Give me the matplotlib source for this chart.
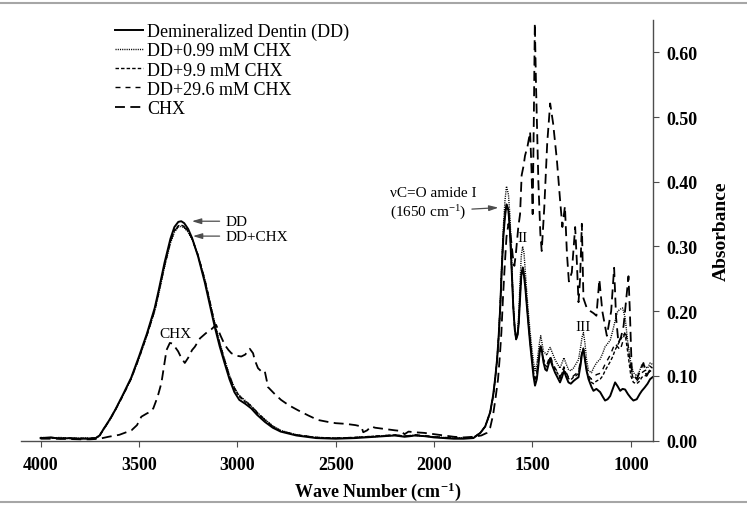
import matplotlib
matplotlib.use("Agg")
import matplotlib.pyplot as plt
from matplotlib.lines import Line2D

plt.rcParams['font.family'] = ['Liberation Serif', 'DejaVu Serif']
plt.rcParams['mathtext.fontset'] = 'custom'
plt.rcParams['mathtext.rm'] = 'Liberation Serif'
plt.rcParams['mathtext.it'] = 'Liberation Serif:italic'
plt.rcParams['mathtext.bf'] = 'Liberation Serif:bold'

# shared wave-number grid for the dentin spectra (cm-1)
wn = [4000, 3950, 3900, 3850, 3800, 3750, 3720, 3700, 3680, 3650,
      3620, 3580, 3540, 3500, 3460, 3420, 3400, 3370, 3340, 3320,
      3300, 3285, 3270, 3250, 3230, 3200, 3165, 3140, 3115, 3090,
      3065, 3040, 3015, 2990, 2960, 2930, 2900, 2860, 2820, 2780,
      2700, 2600, 2500, 2400, 2350, 2300, 2250, 2200, 2150, 2120,
      2100, 2050, 2000, 1950, 1900, 1850, 1800, 1765, 1740, 1715,
      1700, 1690, 1680, 1672, 1664, 1656, 1648, 1640, 1632, 1622,
      1614, 1605, 1597, 1590, 1583, 1576, 1570, 1564, 1557, 1550,
      1543, 1536, 1528, 1520, 1512, 1504, 1495, 1487, 1478, 1470,
      1464, 1458, 1451, 1444, 1435, 1427, 1418, 1410, 1398, 1385,
      1372, 1360, 1350, 1340, 1328, 1317, 1305, 1292, 1280, 1266,
      1255, 1248, 1241, 1233, 1225, 1215, 1200, 1190, 1175, 1156,
      1143, 1131, 1118, 1105, 1092, 1080, 1067, 1054, 1042, 1029,
      1015, 1000, 987, 970, 955, 944, 930, 915, 902, 890]

dd = [0.004, 0.005, 0.003, 0.004, 0.003, 0.003, 0.004, 0.008, 0.018, 0.032,
      0.048, 0.072, 0.097, 0.130, 0.165, 0.205, 0.232, 0.275, 0.312, 0.330,
      0.338, 0.339, 0.336, 0.327, 0.313, 0.285, 0.244, 0.210, 0.176, 0.146,
      0.120, 0.095, 0.075, 0.063, 0.057, 0.050, 0.040, 0.029, 0.020, 0.014,
      0.008, 0.004, 0.003, 0.004, 0.005, 0.006, 0.007, 0.008, 0.006, 0.007,
      0.008, 0.007, 0.005, 0.004, 0.003, 0.003, 0.004, 0.012, 0.022, 0.044,
      0.070, 0.095, 0.125, 0.160, 0.205, 0.265, 0.315, 0.345, 0.365, 0.355,
      0.321, 0.260, 0.203, 0.172, 0.157, 0.163, 0.180, 0.215, 0.254, 0.266,
      0.255, 0.235, 0.205, 0.177, 0.150, 0.126, 0.100, 0.085, 0.095, 0.116,
      0.135, 0.146, 0.136, 0.121, 0.110, 0.108, 0.118, 0.126, 0.115, 0.105,
      0.097, 0.090, 0.098, 0.108, 0.098, 0.090, 0.088, 0.092, 0.095, 0.098,
      0.118, 0.135, 0.141, 0.125, 0.108, 0.095, 0.083, 0.077, 0.080, 0.075,
      0.068, 0.062, 0.064, 0.069, 0.080, 0.090, 0.084, 0.077, 0.080, 0.079,
      0.072, 0.066, 0.062, 0.064, 0.072, 0.077, 0.082, 0.088, 0.095, 0.098]

dd_099 = [0.005, 0.004, 0.005, 0.003, 0.004, 0.004, 0.004, 0.007, 0.017, 0.031,
          0.047, 0.071, 0.095, 0.127, 0.162, 0.200, 0.226, 0.268, 0.305, 0.322,
          0.330, 0.331, 0.329, 0.322, 0.311, 0.287, 0.249, 0.216, 0.182, 0.152,
          0.126, 0.101, 0.082, 0.070, 0.062, 0.054, 0.044, 0.033, 0.023, 0.016,
          0.009, 0.005, 0.004, 0.005, 0.006, 0.006, 0.008, 0.008, 0.007, 0.008,
          0.008, 0.007, 0.006, 0.005, 0.004, 0.004, 0.005, 0.012, 0.022, 0.043,
          0.068, 0.094, 0.125, 0.162, 0.210, 0.275, 0.330, 0.370, 0.393, 0.380,
          0.345, 0.275, 0.210, 0.175, 0.158, 0.168, 0.195, 0.240, 0.285, 0.300,
          0.290, 0.260, 0.225, 0.195, 0.168, 0.145, 0.122, 0.108, 0.118, 0.138,
          0.152, 0.162, 0.150, 0.138, 0.135, 0.132, 0.140, 0.144, 0.135, 0.125,
          0.118, 0.112, 0.120, 0.128, 0.118, 0.110, 0.108, 0.112, 0.118, 0.125,
          0.145, 0.160, 0.167, 0.150, 0.125, 0.108, 0.105, 0.112, 0.120, 0.126,
          0.135, 0.145, 0.150, 0.155, 0.170, 0.185, 0.200, 0.203, 0.205, 0.190,
          0.150, 0.120, 0.105, 0.100, 0.108, 0.118, 0.115, 0.112, 0.120, 0.118]

dd_99 = [0.004, 0.004, 0.004, 0.004, 0.003, 0.004, 0.004, 0.008, 0.018, 0.032,
         0.048, 0.071, 0.096, 0.128, 0.163, 0.202, 0.229, 0.271, 0.308, 0.325,
         0.332, 0.333, 0.331, 0.324, 0.312, 0.286, 0.247, 0.214, 0.180, 0.150,
         0.124, 0.099, 0.080, 0.068, 0.060, 0.053, 0.043, 0.032, 0.022, 0.015,
         0.009, 0.005, 0.004, 0.005, 0.006, 0.007, 0.007, 0.009, 0.007, 0.007,
         0.009, 0.007, 0.006, 0.004, 0.004, 0.004, 0.004, 0.012, 0.022, 0.044,
         0.069, 0.094, 0.124, 0.160, 0.206, 0.266, 0.318, 0.350, 0.364, 0.355,
         0.322, 0.262, 0.205, 0.172, 0.156, 0.163, 0.182, 0.218, 0.256, 0.268,
         0.258, 0.238, 0.208, 0.180, 0.153, 0.130, 0.106, 0.093, 0.103, 0.122,
         0.136, 0.144, 0.135, 0.124, 0.117, 0.114, 0.122, 0.128, 0.118, 0.110,
         0.104, 0.096, 0.104, 0.112, 0.103, 0.096, 0.094, 0.098, 0.100, 0.104,
         0.122, 0.136, 0.140, 0.126, 0.110, 0.097, 0.090, 0.088, 0.092, 0.095,
         0.100, 0.108, 0.115, 0.122, 0.130, 0.140, 0.148, 0.155, 0.162, 0.165,
         0.135, 0.100, 0.090, 0.088, 0.092, 0.098, 0.100, 0.102, 0.108, 0.105]

dd_296 = [0.004, 0.005, 0.004, 0.003, 0.004, 0.003, 0.004, 0.008, 0.017, 0.031,
          0.047, 0.070, 0.095, 0.127, 0.162, 0.201, 0.228, 0.270, 0.307, 0.324,
          0.331, 0.332, 0.330, 0.323, 0.312, 0.287, 0.249, 0.216, 0.181, 0.151,
          0.125, 0.100, 0.081, 0.069, 0.061, 0.054, 0.044, 0.032, 0.022, 0.015,
          0.009, 0.005, 0.004, 0.005, 0.006, 0.007, 0.008, 0.009, 0.007, 0.008,
          0.009, 0.008, 0.006, 0.005, 0.004, 0.004, 0.005, 0.012, 0.022, 0.043,
          0.068, 0.093, 0.123, 0.160, 0.207, 0.268, 0.320, 0.352, 0.366, 0.357,
          0.324, 0.263, 0.206, 0.173, 0.157, 0.164, 0.183, 0.220, 0.258, 0.270,
          0.260, 0.240, 0.210, 0.182, 0.155, 0.132, 0.108, 0.095, 0.106, 0.125,
          0.140, 0.148, 0.138, 0.126, 0.120, 0.117, 0.125, 0.131, 0.121, 0.112,
          0.106, 0.098, 0.106, 0.114, 0.105, 0.098, 0.096, 0.100, 0.103, 0.107,
          0.125, 0.138, 0.143, 0.128, 0.112, 0.100, 0.095, 0.098, 0.102, 0.104,
          0.110, 0.118, 0.125, 0.132, 0.142, 0.150, 0.145, 0.140, 0.152, 0.170,
          0.150, 0.110, 0.095, 0.092, 0.098, 0.105, 0.108, 0.110, 0.115, 0.112]

# pure chlorhexidine spectrum
wn_chx = [4000, 3900, 3800, 3750, 3700, 3655, 3600, 3538, 3510, 3488,
          3460, 3440, 3427, 3405, 3386, 3370, 3360, 3343, 3330, 3315,
          3301, 3285, 3267, 3250, 3230, 3216, 3190, 3160, 3132, 3108,
          3085, 3064, 3045, 3030, 3000, 2980, 2960, 2937, 2920, 2912,
          2895, 2878, 2861, 2850, 2845, 2810, 2778, 2740, 2692, 2640,
          2591, 2540, 2500, 2450, 2400, 2370, 2360, 2340, 2320, 2300,
          2250, 2200, 2170, 2150, 2130, 2100, 2050, 2000, 1950, 1900,
          1850, 1800, 1760, 1732, 1715, 1700, 1688, 1675, 1666, 1658,
          1650, 1641, 1632, 1622, 1612, 1600, 1592, 1584, 1572, 1563,
          1555, 1545, 1538, 1525, 1512, 1505, 1499, 1493, 1488, 1482,
          1470, 1460, 1453, 1440, 1425, 1410, 1395, 1376, 1360, 1348,
          1335, 1325, 1315, 1300, 1283, 1275, 1266, 1258, 1249, 1241,
          1224, 1205, 1190, 1175, 1160, 1145, 1122, 1100, 1085, 1075,
          1063, 1050, 1037, 1012, 1005, 995, 970, 950, 936, 920,
          902, 890]
chx = [0.003, 0.003, 0.002, 0.002, 0.003, 0.006, 0.009, 0.016, 0.024, 0.037,
       0.042, 0.045, 0.050, 0.068, 0.089, 0.120, 0.140, 0.151, 0.150, 0.144,
       0.138, 0.128, 0.120, 0.128, 0.140, 0.145, 0.158, 0.166, 0.172, 0.179,
       0.162, 0.148, 0.140, 0.135, 0.131, 0.130, 0.133, 0.142, 0.135, 0.125,
       0.112, 0.107, 0.108, 0.092, 0.083, 0.072, 0.063, 0.055, 0.047, 0.039,
       0.032, 0.029, 0.027, 0.026, 0.024, 0.022, 0.013, 0.016, 0.022, 0.020,
       0.018, 0.016, 0.015, 0.010, 0.014, 0.013, 0.012, 0.010, 0.008, 0.006,
       0.005, 0.006, 0.008, 0.012, 0.020, 0.040, 0.065, 0.095, 0.130, 0.167,
       0.220, 0.270, 0.315, 0.335, 0.320, 0.285, 0.270, 0.290, 0.330, 0.350,
       0.410, 0.425, 0.440, 0.455, 0.477, 0.420, 0.350, 0.500, 0.645, 0.550,
       0.400, 0.320, 0.293, 0.360, 0.460, 0.521, 0.490, 0.434, 0.373, 0.330,
       0.362, 0.290, 0.246, 0.260, 0.330, 0.280, 0.214, 0.250, 0.335, 0.220,
       0.205, 0.200, 0.197, 0.193, 0.249, 0.200, 0.162, 0.200, 0.267, 0.190,
       0.151, 0.160, 0.177, 0.254, 0.200, 0.105, 0.095, 0.110, 0.120, 0.100,
       0.110, 0.105]

labels = ['Demineralized Dentin (DD)', 'DD+0.99 mM CHX', 'DD+9.9 mM CHX',
          'DD+29.6 mM CHX', 'CHX']
x_ticks = [4000, 3500, 3000, 2500, 2000, 1500, 1000]
y_ticks = [0.0, 0.1, 0.2, 0.3, 0.4, 0.5, 0.6]

fig = plt.figure(figsize=(7.47, 5.10), dpi=100)
ax = fig.add_axes([0.028, 0.134, 0.846, 0.825])

ax.plot(wn, dd, color='black', lw=1.4, label=labels[0])
ax.plot(wn, dd_099, color='black', lw=1.0, ls=(0, (0.8, 0.8)), label=labels[1])
ax.plot(wn, dd_99, color='black', lw=1.0, ls=(0, (2.5, 1.5)), label=labels[2])
ax.plot(wn, dd_296, color='black', lw=1.0, ls=(0, (3.6, 3.6)), label=labels[3])
ax.plot(wn_chx, chx, color='black', lw=1.3, ls=(0, (5.5, 3)), label=labels[4])

ax.set_xlim(4100, 888)
ax.set_ylim(0, 0.65)

for s in ['left', 'top']:
    ax.spines[s].set_visible(False)
for s in ['bottom', 'right']:
    ax.spines[s].set_color('0.3')
    ax.spines[s].set_linewidth(1.0)

ax.yaxis.tick_right()
ax.set_xticks(x_ticks, labels=[str(t) for t in x_ticks], fontweight='bold', fontsize=13)
ax.set_yticks(y_ticks, labels=['%.2f' % t for t in y_ticks], fontweight='bold', fontsize=13)
ax.tick_params(axis='x', direction='out', length=4, width=0.8, color='0.3', pad=7)
ax.tick_params(axis='y', direction='out', length=4, width=0.8, color='0.3', pad=6)

ax.set_xlabel(r'Wave Number (cm$^{\mathbf{-1}}$)', fontweight='bold', fontsize=13)
ax.xaxis.set_label_coords(0.565, -0.093)
ax.yaxis.set_label_position('right')
ax.set_ylabel('Absorbance', fontweight='bold', fontsize=14)
ax.yaxis.set_label_coords(1.095, 0.5)

leg = ax.legend(loc='upper left', bbox_to_anchor=(115 / 747, 0.953),
                bbox_transform=fig.transFigure, frameon=False, fontsize=13,
                handlelength=1.55, handletextpad=0.22, labelspacing=0.12,
                borderpad=0, borderaxespad=0)

arrow = dict(arrowstyle='-|>,head_length=0.5,head_width=0.15', color='0.3',
             lw=0.9, shrinkA=2, shrinkB=0)
ax.annotate('DD', xy=(3231, 0.339), xytext=(3062, 0.339), fontsize=11,
            va='center', ha='left', arrowprops=arrow)
ax.annotate('DD+CHX', xy=(3226, 0.316), xytext=(3062, 0.316), fontsize=11,
            va='center', ha='left', arrowprops=arrow)
ax.text(3316, 0.166, 'CHX', fontsize=11, ha='center', va='center')
ax.text(2224, 0.383, 'νC=O amide I', fontsize=11, ha='left', va='center')
ax.annotate('(1650 cm$^{-1}$)', xy=(1673, 0.36), xytext=(2224, 0.354),
            fontsize=11, ha='left', va='center', arrowprops=arrow)
ax.text(1550, 0.314, 'II', fontsize=11, ha='center', va='center')
ax.text(1242, 0.177, 'III', fontsize=11, ha='center', va='center')

# grey rules above and below the figure
fig.add_artist(Line2D([0, 1], [1 - 4 / 510, 1 - 4 / 510], transform=fig.transFigure,
                      color='0.65', lw=1.5))
fig.add_artist(Line2D([0, 1], [1 - 503 / 510, 1 - 503 / 510], transform=fig.transFigure,
                      color='0.65', lw=1.5))

fig.savefig('out.png', dpi=100)
